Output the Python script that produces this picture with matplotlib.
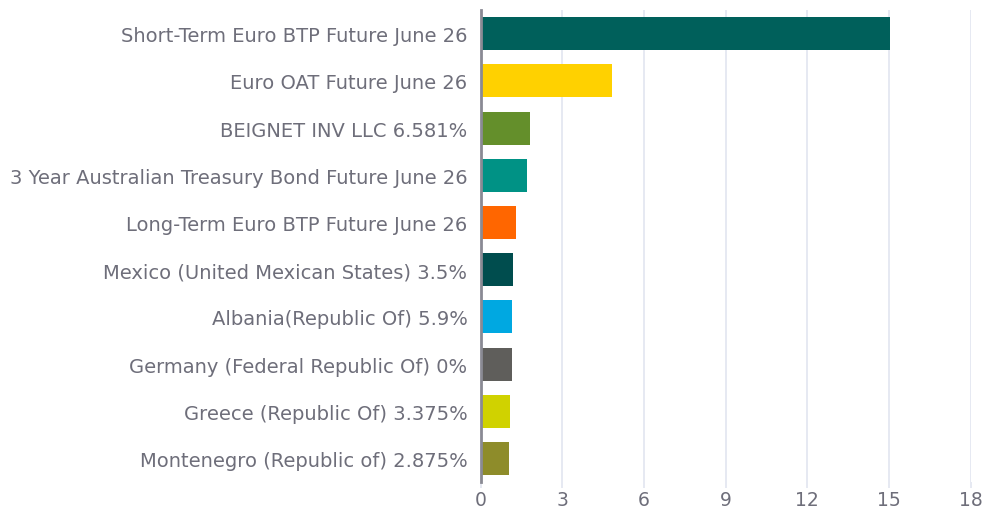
import matplotlib
matplotlib.use("Agg")
import matplotlib.pyplot as plt

plt.rcParams["font.family"] = ["DejaVu Sans"]

# Holdings and their weights (%)
holdings = [
    "Short-Term Euro BTP Future June 26",
    "Euro OAT Future June 26",
    "BEIGNET INV LLC 6.581%",
    "3 Year Australian Treasury Bond Future June 26",
    "Long-Term Euro BTP Future June 26",
    "Mexico (United Mexican States) 3.5%",
    "Albania(Republic Of) 5.9%",
    "Germany (Federal Republic Of) 0%",
    "Greece (Republic Of) 3.375%",
    "Montenegro (Republic of) 2.875%",
]
weights = [15.03, 4.83, 1.81, 1.71, 1.30, 1.19, 1.15, 1.15, 1.08, 1.04]
colors = ["#00605b", "#ffd100", "#648f2b", "#009285", "#ff6600",
          "#004d4e", "#00a8e1", "#5f5e5b", "#d0d200", "#8e8c2a"]
x_ticks = [0, 3, 6, 9, 12, 15, 18]

text_color = "#6e6e7a"
grid_color = "#e1e5f0"

fig = plt.figure(figsize=(9.85, 5.10), dpi=100)
ax = fig.add_axes([0.488, 0.053, 0.4975, 0.925])

ypos = list(range(len(holdings)))
ax.barh(ypos, weights, height=0.7, color=colors, zorder=3)

ax.set_ylim(len(holdings) - 0.5, -0.5)
ax.set_xlim(0, 18)
ax.set_xticks(x_ticks)
ax.set_yticks(ypos)
ax.set_yticklabels(holdings)

ax.grid(axis="x", color=grid_color, linewidth=1.2, zorder=0)
for side in ["top", "right", "bottom"]:
    ax.spines[side].set_visible(False)
ax.spines["left"].set_color("#8a8a94")
ax.spines["left"].set_linewidth(2)
ax.spines["left"].set_zorder(4)

ax.tick_params(axis="y", length=0, pad=9.5, labelsize=14, labelcolor=text_color)
ax.tick_params(axis="x", length=4, width=1.2, color=grid_color, pad=2,
               labelsize=13.5, labelcolor=text_color)

fig.savefig("out.png", dpi=100)
